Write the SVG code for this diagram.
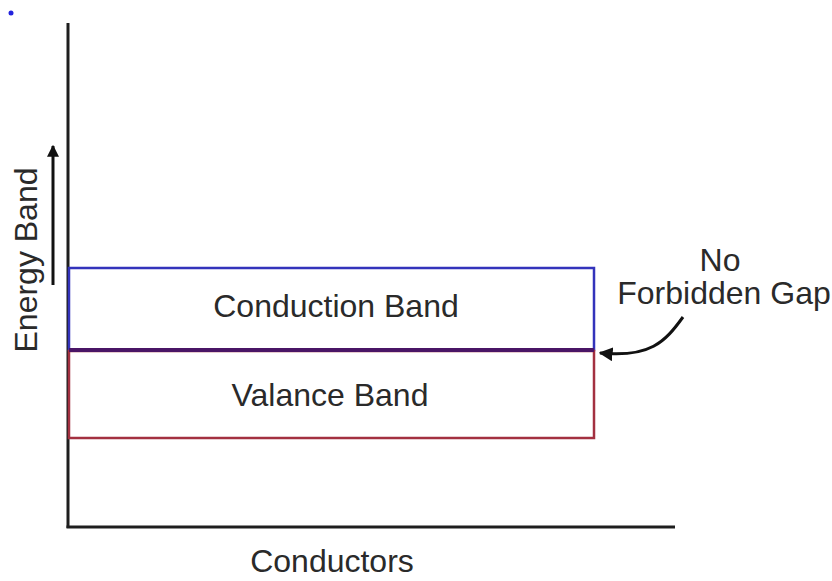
<svg xmlns="http://www.w3.org/2000/svg" width="832" height="581" viewBox="0 0 832 581">
<style>
text{font-family:"Liberation Sans",Arial,sans-serif;fill:#2a2a2a;font-size:32px}
.axis{stroke:#1e1e1e;stroke-width:3;fill:none}
</style>
<defs>
<marker id="ah" viewBox="0 0 10 10" refX="9" refY="5" markerWidth="12" markerHeight="12" markerUnits="userSpaceOnUse" orient="auto"><path d="M0,0 L10,5 L0,10 z" fill="#111"/></marker>
<marker id="ah2" viewBox="0 0 10 10" refX="9" refY="5" markerWidth="14" markerHeight="14" markerUnits="userSpaceOnUse" orient="auto"><path d="M0,0 L10,5 L0,10 z" fill="#111"/></marker>
</defs>
<rect width="832" height="581" fill="#fff"/>
<circle cx="11" cy="13" r="2.5" fill="#2222dd"/>
<g id="axes">
<line class="axis" x1="68" y1="23" x2="68" y2="528"/>
<line class="axis" x1="66.5" y1="527" x2="675" y2="527"/>
</g>
<g id="conduction-band">
<rect x="69" y="268" width="525" height="82" fill="none" stroke="#3333bb" stroke-width="2.5"/>
<text x="336" y="317" text-anchor="middle">Conduction Band</text>
</g>
<g id="valence-band">
<rect x="69" y="351" width="525" height="87" fill="none" stroke="#a33040" stroke-width="2.5"/>
<text x="330" y="406" text-anchor="middle">Valance Band</text>
</g>
<line x1="69" y1="350" x2="594" y2="350" stroke="#4a1566" stroke-width="4"/>
<g id="energy-label">
<text transform="translate(37,260) rotate(-90)" text-anchor="middle" font-size="33">Energy Band</text>
</g>
<g id="gap-label">
<text x="720" y="271" text-anchor="middle" font-size="29">No</text>
<text x="724" y="304" text-anchor="middle" font-size="29">Forbidden Gap</text>
</g>
<g id="connectors">
<line x1="53" y1="285" x2="53" y2="146" stroke="#111" stroke-width="3" marker-end="url(#ah)"/>
<path d="M683,317 C665,342 650,358 600,353" fill="none" stroke="#111" stroke-width="3" marker-end="url(#ah2)"/>
</g>
<g id="x-label">
<text x="332" y="572" text-anchor="middle">Conductors</text>
</g>
</svg>
